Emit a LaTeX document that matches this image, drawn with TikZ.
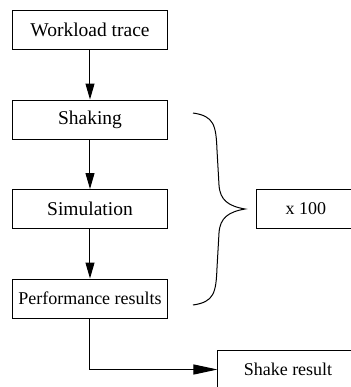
\documentclass[tikz,border=0pt]{standalone}
\usepackage{fontspec}
\setmainfont{Liberation Serif}
\usetikzlibrary{arrows.meta}

\tikzset{
  boite/.style={draw, line width=0.5pt, minimum width=77.5pt, minimum height=19.5pt, inner sep=0pt, font=\fontsize{9.75}{11}\selectfont},
  petite/.style={font=\fontsize{9}{11}\selectfont},
  fleche v/.style={line width=0.5pt, -{Triangle[length=8pt,width=4.5pt]}},
  fleche h/.style={line width=0.5pt, -{Triangle[length=12pt,width=5pt]}}
}

\begin{document}
\begin{tikzpicture}[x=0.5pt,y=-0.5pt]

\useasboundingbox (0,0) rectangle (350,387) ;

% boites principales

\node[boite] (trace) at (90,29.5) {Workload trace} ;
\node[boite] (shaking) at (90,119.5) {Shaking} ;
\node[boite] (simu) at (90,209) {Simulation} ;
\node[boite,petite] (perf) at (90,298.5) {Performance results} ;

% boites de droite

\node[boite,petite,minimum width=49pt] (repet) at (306,209) {x 100} ;
\node[boite,petite,minimum width=70pt] (shake) at (288,369.5) {Shake result} ;

% fleches

\draw[fleche v] (trace) -- (shaking) ;
\draw[fleche v] (shaking) -- (simu) ;
\draw[fleche v] (simu) -- (perf) ;
\draw[fleche h] (perf.south) |- (shake.west) ;

% accolade

\draw[line width=0.5pt] (193,113) .. controls (214,116) and (216,125) .. (217,150)
  -- (219,185) .. controls (220,200) and (228,206) .. (245,209)
  .. controls (228,212) and (220,218) .. (219,233)
  -- (217,268) .. controls (216,293) and (214,302) .. (193,305) ;

\end{tikzpicture}
\end{document}
